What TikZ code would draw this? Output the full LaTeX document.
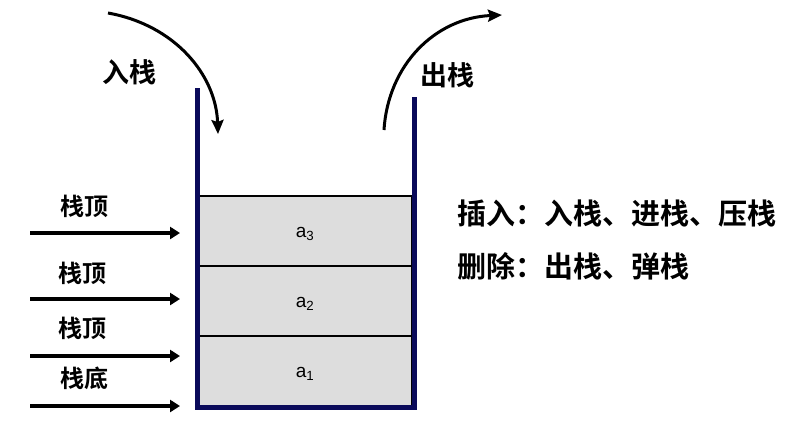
\documentclass[tikz,border=0pt]{standalone}
\usepackage{fontspec}
\setmainfont{Liberation Sans}
\newfontfamily\cjk{Noto Sans CJK SC Bold}
\usetikzlibrary{arrows.meta}
\definecolor{wallc}{HTML}{0A0A5A}
\definecolor{cellc}{HTML}{DDDDDD}
\tikzset{
  wall/.style={line width=5pt, draw=wallc},
  cell/.style={draw=black, line width=1.2pt, fill=cellc},
  ptr/.style={line width=3.5pt, -{Triangle[length=10pt,width=12pt]}},
  curv/.style={line width=3pt, -{Stealth[length=14pt,width=12pt,inset=2pt]}},
  lab/.style={font=\cjk\fontsize{24}{26}\selectfont},
  lab2/.style={font=\cjk\fontsize{27}{29}\selectfont},
  big/.style={font=\cjk\fontsize{29}{31}\selectfont, anchor=west},
  elem/.style={font=\fontsize{19}{21}\selectfont}
}
\begin{document}
\begin{tikzpicture}[x=1pt,y=-1pt]
\useasboundingbox (0,0) rectangle (797,424);
% cells
\draw[cell] (199,196) rectangle (412,266);
\draw[cell] (199,266) rectangle (412,336);
\draw[cell] (199,336) rectangle (412,407);
\node[elem] (a3) at (305,234) {a\textsubscript{3}};
\node[elem] (a2) at (305,304) {a\textsubscript{2}};
\node[elem] (a1) at (305,374) {a\textsubscript{1}};
% walls
\draw[wall] (197,88) -- (197,407) -- (414,407) -- (414,97);
% pointer arrows
\coordinate (s1) at (30,233); \coordinate (e1) at (180,233);
\coordinate (s2) at (30,299); \coordinate (e2) at (180,299);
\coordinate (s3) at (30,356); \coordinate (e3) at (180,356);
\coordinate (s4) at (30,406); \coordinate (e4) at (180,406);
\draw[ptr] (s1) -- (e1);
\draw[ptr] (s2) -- (e2);
\draw[ptr] (s3) -- (e3);
\draw[ptr] (s4) -- (e4);
\node[lab] (t1) at (84,206) {栈顶};
\node[lab] (t2) at (82,273) {栈顶};
\node[lab] (t3) at (82,328) {栈顶};
\node[lab] (t4) at (84,378) {栈底};
% push / pop
\coordinate (ps) at (108,13); \coordinate (pe) at (218,134);
\draw[curv] (ps) .. controls (175,25) and (216,75) .. (pe);
\node[lab2] (push) at (129,72) {入栈};
\coordinate (qs) at (384,130); \coordinate (qe) at (502,15);
\draw[curv] (qs) .. controls (388,65) and (435,18) .. (qe);
\node[lab2] (pop) at (447,75) {出栈};
% right text
\node[big] (ins) at (454,214) {插入：入栈、进栈、压栈};
\node[big] (del) at (454,266) {删除：出栈、弹栈};
\end{tikzpicture}
\end{document}
